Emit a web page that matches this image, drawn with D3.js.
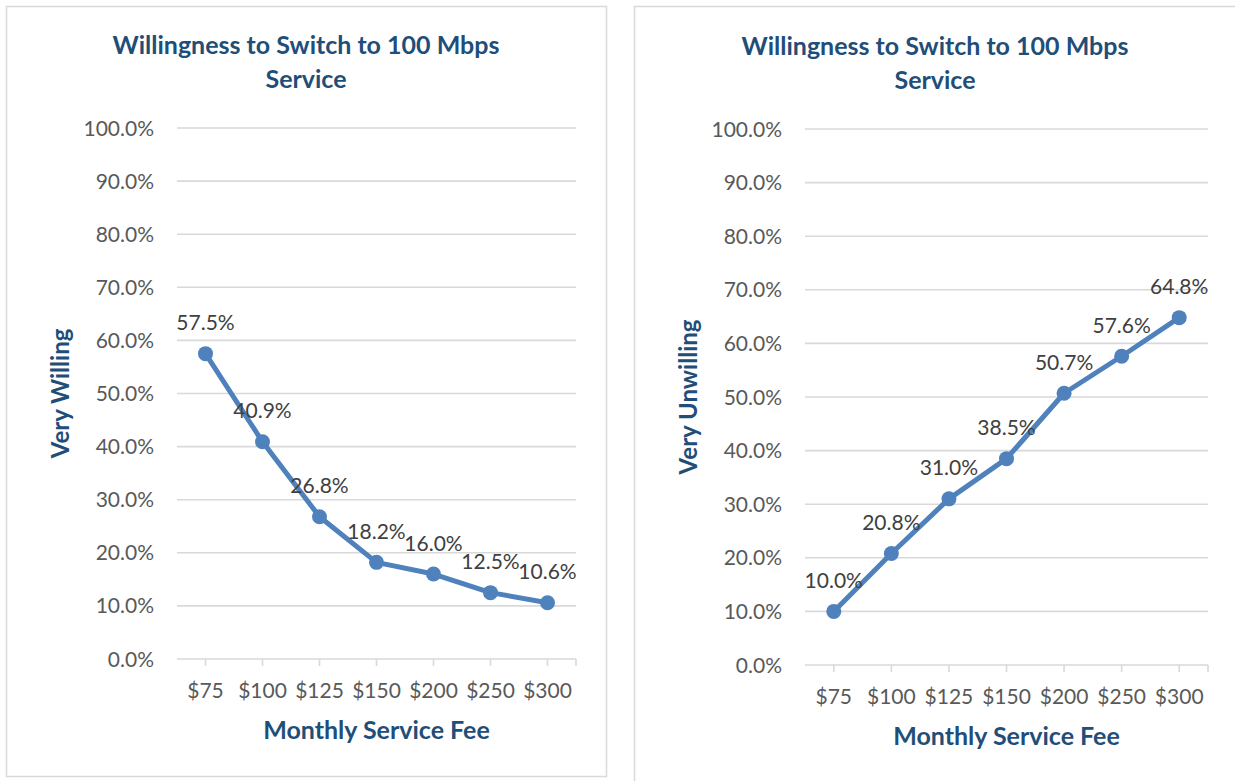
<!DOCTYPE html>
<html>
<head>
<meta charset="utf-8">
<script src="https://cdn.jsdelivr.net/npm/d3@7"></script>
<style>
  html, body { margin: 0; padding: 0; background: #fff; }
  svg { display: block; }
</style>
</head>
<body>
<svg id="chart" width="1235" height="781"></svg>
<script>
const categories = ["$75", "$100", "$125", "$150", "$200", "$250", "$300"];
const veryWilling = [0.575, 0.409, 0.268, 0.182, 0.160, 0.125, 0.106];
const veryUnwilling = [0.100, 0.208, 0.310, 0.385, 0.507, 0.576, 0.648];
const yTicks = [0, 0.1, 0.2, 0.3, 0.4, 0.5, 0.6, 0.7, 0.8, 0.9, 1.0];
const chartTitleLines = ["Willingness to Switch to 100 Mbps", "Service"];
const xTitle = "Monthly Service Fee";
const yTitles = ["Very Willing", "Very Unwilling"];

const svg = d3.select("#chart");
const FONT = "Lato, 'Open Sans', sans-serif";
const TITLE_COLOR = "#1f4e79";
const TEXT_COLOR = "#595959";
const GRID = "#d9d9d9";
const LINE = "#4f81bd";
const fmt = d3.format(".1%");

// panel frames
svg.append("rect").attr("x", 6.5).attr("y", 6.5).attr("width", 600).attr("height", 770)
  .attr("fill", "#fff").attr("stroke", GRID).attr("stroke-width", 1.5);
svg.append("rect").attr("x", 634.5).attr("y", 6.5).attr("width", 640).attr("height", 800)
  .attr("fill", "#fff").attr("stroke", GRID).attr("stroke-width", 1.5);

function drawChart(opts) {
  const g = svg.append("g");
  const x = d3.scaleBand().domain(categories).range([opts.x0, opts.x1]).padding(0);
  const cx = d => x(d) + x.bandwidth() / 2;
  const y = d3.scaleLinear().domain([0, 1]).range([opts.yBottom, opts.yTop]);

  // gridlines
  g.selectAll(".grid").data(yTicks).join("line")
    .attr("x1", opts.x0).attr("x2", opts.x1)
    .attr("y1", d => y(d)).attr("y2", d => y(d))
    .attr("stroke", GRID).attr("stroke-width", 1.6);

  // y tick labels
  g.selectAll(".ylab").data(yTicks).join("text")
    .attr("x", opts.yLabelX).attr("y", d => y(d)).attr("dy", "0.36em")
    .attr("text-anchor", "end").attr("fill", TEXT_COLOR)
    .style("font-family", FONT).style("font-size", "21px")
    .text(d => fmt(d));

  // x tick marks
  const tickXs = categories.map(cx).concat([opts.x1]);
  g.selectAll(".xtick").data(tickXs).join("line")
    .attr("x1", d => d).attr("x2", d => d)
    .attr("y1", opts.yBottom).attr("y2", opts.yBottom + 7)
    .attr("stroke", GRID).attr("stroke-width", 1.6);

  // x tick labels
  g.selectAll(".xlab").data(categories).join("text")
    .attr("x", d => cx(d)).attr("y", opts.yBottom + 31).attr("dy", "0.36em")
    .attr("text-anchor", "middle").attr("fill", TEXT_COLOR)
    .style("font-family", FONT).style("font-size", "21px")
    .text(d => d);

  // line
  const pts = categories.map((c, i) => [cx(c), y(opts.values[i])]);
  g.append("path").attr("d", d3.line()(pts))
    .attr("fill", "none").attr("stroke", LINE).attr("stroke-width", 5)
    .attr("stroke-linejoin", "round");
  g.selectAll(".pt").data(categories).join("circle")
    .attr("cx", d => cx(d)).attr("cy", (d, i) => y(opts.values[i])).attr("r", 7.5)
    .attr("fill", LINE);

  // data labels
  g.selectAll(".dl").data(categories).join("text")
    .attr("x", d => cx(d)).attr("y", (d, i) => y(opts.values[i]) - 31).attr("dy", "0.36em")
    .attr("text-anchor", "middle").attr("fill", "#404040")
    .style("font-family", FONT).style("font-size", "21px")
    .text((d, i) => fmt(opts.values[i]));

  // title
  chartTitleLines.forEach((t, i) => {
    g.append("text").attr("x", opts.titleX).attr("y", opts.titleY + i * 34).attr("dy", "0.36em")
      .attr("text-anchor", "middle").attr("fill", TITLE_COLOR)
      .style("font-family", FONT).style("font-size", "25px").style("font-weight", "bold")
      .text(t);
  });

  // x title
  g.append("text").attr("x", (opts.x0 + opts.x1) / 2).attr("y", opts.yBottom + 71).attr("dy", "0.36em")
    .attr("text-anchor", "middle").attr("fill", TITLE_COLOR)
    .style("font-family", FONT).style("font-size", "25px").style("font-weight", "bold")
    .text(xTitle);

  // y title
  const ym = (opts.yTop + opts.yBottom) / 2;
  g.append("text").attr("transform", `translate(${opts.yTitleX},${ym}) rotate(-90)`).attr("dy", "0.36em")
    .attr("text-anchor", "middle").attr("fill", TITLE_COLOR)
    .style("font-family", FONT).style("font-size", "24px").style("font-weight", "bold")
    .text(opts.yTitle);
}

drawChart({ values: veryWilling, yTitle: yTitles[0], x0: 177, x1: 576, yTop: 128, yBottom: 659,
  yLabelX: 154, titleX: 306, titleY: 45, yTitleX: 60 });
drawChart({ values: veryUnwilling, yTitle: yTitles[1], x0: 805, x1: 1208, yTop: 129, yBottom: 665,
  yLabelX: 782, titleX: 935, titleY: 46, yTitleX: 688 });
</script>
</body>
</html>
